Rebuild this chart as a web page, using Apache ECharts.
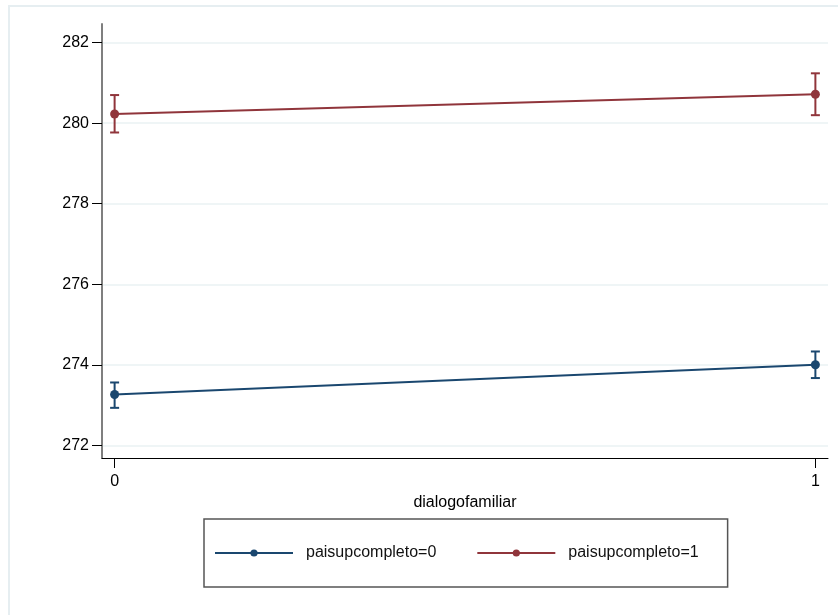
<!DOCTYPE html>
<html><head><meta charset="utf-8">
<script src="https://cdn.jsdelivr.net/npm/echarts@6/dist/echarts.min.js"></script>
<style>html,body{margin:0;padding:0;background:#fff}#c{width:838px;height:615px}</style>
</head><body><div id="c"></div>
<script>
const xValues = [0, 1];
const xTicks = [0, 1];
const yTicks = [272, 274, 276, 278, 280, 282];
const seriesNames = ['paisupcompleto=0', 'paisupcompleto=1'];
const mean0 = [273.26, 274.00];
const lo0 = [272.93, 273.67];
const hi0 = [273.56, 274.33];
const mean1 = [280.23, 280.72];
const lo1 = [279.77, 280.20];
const hi1 = [280.70, 281.24];
const colors = ['#1a476f', '#90353b'];
const xTitle = 'dialogofamiliar';

const font = '"Liberation Sans", Arial, sans-serif';
const chart = echarts.init(document.getElementById('c'), null, {renderer: 'canvas'});

function errSeries(lo, hi, color) {
  return {
    type: 'custom',
    silent: true,
    z: 3,
    data: xValues.map((x, i) => [x, lo[i], hi[i]]),
    renderItem: function (params, api) {
      const p1 = api.coord([api.value(0), api.value(1)]);
      const p2 = api.coord([api.value(0), api.value(2)]);
      const w = 4.5;
      const st = {stroke: color, lineWidth: 2, fill: null};
      return {
        type: 'group',
        children: [
          {type: 'line', shape: {x1: p1[0], y1: p1[1], x2: p2[0], y2: p2[1]}, style: st},
          {type: 'line', shape: {x1: p1[0] - w, y1: p1[1], x2: p1[0] + w, y2: p1[1]}, style: st},
          {type: 'line', shape: {x1: p2[0] - w, y1: p2[1], x2: p2[0] + w, y2: p2[1]}, style: st}
        ]
      };
    }
  };
}

function lineSeries(name, mean, color) {
  return {
    name: name,
    type: 'line',
    z: 4,
    data: xValues.map((x, i) => [x, mean[i]]),
    symbol: 'circle',
    symbolSize: 9,
    showSymbol: true,
    lineStyle: {color: color, width: 2},
    itemStyle: {color: color},
    emphasis: {disabled: true},
    animation: false
  };
}

chart.setOption({
  animation: false,
  backgroundColor: '#ffffff',
  grid: {left: 102, right: 10, top: 24, bottom: 157, containLabel: false},
  graphic: [{
    type: 'rect', silent: true, z: -10,
    shape: {x: 9, y: 6, width: 860, height: 640},
    style: {fill: null, stroke: '#e6eef1', lineWidth: 2}
  }],
  xAxis: {
    type: 'value',
    min: -0.018, max: 1.018,
    name: xTitle,
    nameLocation: 'middle',
    nameGap: 27,
    nameTextStyle: {color: '#000', fontSize: 16, fontFamily: font},
    axisLine: {show: true, onZero: false, lineStyle: {color: '#000', width: 1}},
    axisTick: {show: true, length: 10, customValues: xTicks, lineStyle: {color: '#000', width: 1}},
    axisLabel: {customValues: xTicks, color: '#000', fontSize: 16, fontFamily: font, margin: 16,
      formatter: v => String(v)},
    splitLine: {show: false}
  },
  yAxis: {
    type: 'value',
    min: 271.684, max: 282.465,
    axisLine: {show: true, onZero: false, lineStyle: {color: '#7f7f7f', width: 2}},
    axisTick: {show: true, length: 10, customValues: yTicks, lineStyle: {color: '#000', width: 1}},
    axisLabel: {customValues: yTicks, color: '#000', fontSize: 16, fontFamily: font, margin: 13,
      formatter: v => String(v)},
    splitLine: {show: true, lineStyle: {color: '#eaf2f3', width: 1.5}}
  },
  legend: {
    data: seriesNames,
    left: 204, top: 519,
    padding: [26, 29, 26, 10],
    itemWidth: 78, itemHeight: 9,
    itemGap: 40,
    borderColor: '#555', borderWidth: 1.5,
    backgroundColor: '#fff',
    textStyle: {color: '#111', fontSize: 16, fontFamily: font, padding: [0, 0, 0, 8]},
    selectedMode: false
  },
  series: [
    lineSeries(seriesNames[0], mean0, colors[0]),
    lineSeries(seriesNames[1], mean1, colors[1]),
    errSeries(lo0, hi0, colors[0]),
    errSeries(lo1, hi1, colors[1])
  ]
});
</script></body></html>
